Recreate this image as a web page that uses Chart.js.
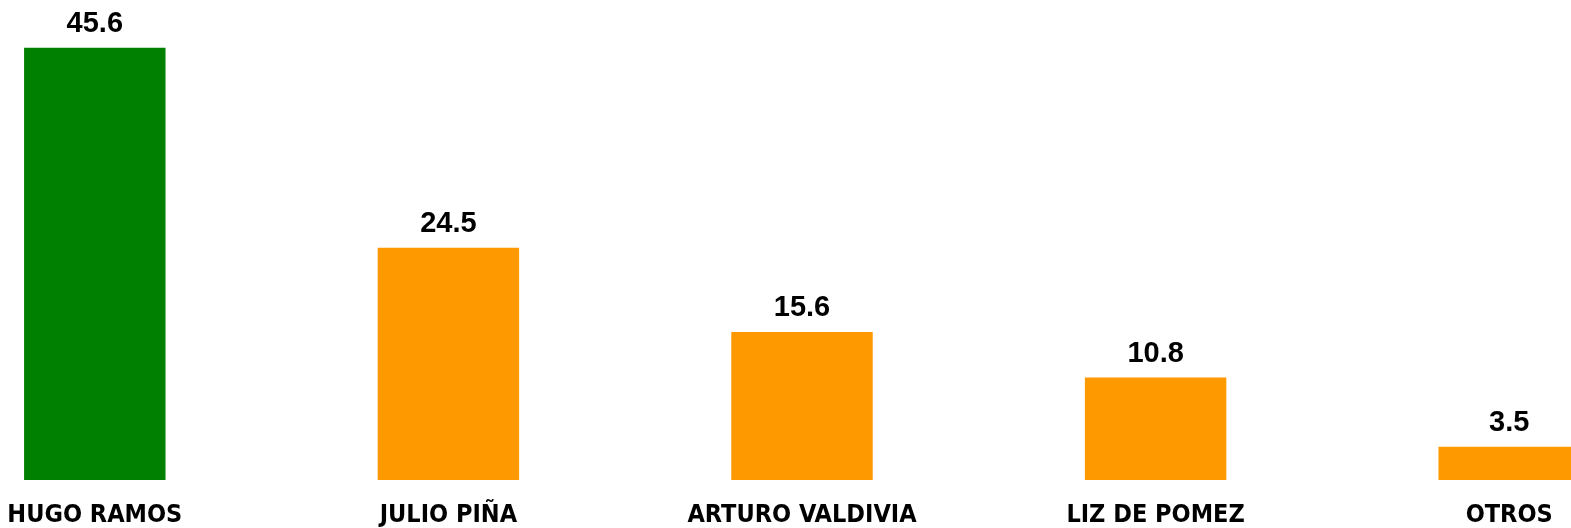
<!DOCTYPE html>
<html>
<head>
<meta charset="utf-8">
<script src="https://cdn.jsdelivr.net/npm/chart.js@4/dist/chart.umd.min.js"></script>
<style>
  html, body { margin: 0; padding: 0; background: #fff; overflow: hidden; }
  body { width: 1571px; height: 528px; position: relative; }
  #grafico { position: absolute; left: -82px; top: 0; }
</style>
</head>
<body>
<canvas id="grafico" width="1768" height="528"></canvas>
<script>
// datos del grafico
const candidatos = ["HUGO RAMOS", "JULIO PIÑA", "ARTURO VALDIVIA", "LIZ DE POMEZ", "OTROS"];
const porcentajes = [45.6, 24.5, 15.6, 10.8, 3.5];
const coloresBarras = ["#008000", "#ff9900", "#ff9900", "#ff9900", "#ff9900"];

// etiquetas de valor encima de cada barra
const etiquetasValor = {
    id: "etiquetasValor",
    afterDatasetsDraw(chart) {
        const ctx = chart.ctx;
        const meta = chart.getDatasetMeta(0);
        ctx.save();
        ctx.font = "bold 29px 'Liberation Sans', Arial, sans-serif";
        ctx.fillStyle = "#000";
        ctx.textAlign = "center";
        ctx.textBaseline = "alphabetic";
        meta.data.forEach((bar, i) => {
            ctx.fillText(porcentajes[i].toFixed(1), bar.x, bar.y - 16);
        });
        ctx.restore();
    }
};

const ctx = document.getElementById("grafico").getContext("2d");
new Chart(ctx, {
    type: "bar",
    data: {
        labels: candidatos,
        datasets: [{
            data: porcentajes,
            backgroundColor: coloresBarras,
            borderWidth: 0,
            barPercentage: 0.4,
            categoryPercentage: 1.0
        }]
    },
    options: {
        responsive: false,
        animation: false,
        layout: { padding: { top: 6, bottom: 0, left: 0, right: 0 } },
        plugins: {
            legend: { display: false },
            tooltip: { enabled: false }
        },
        scales: {
            x: {
                grid: { display: false, drawTicks: false },
                border: { display: false },
                afterFit(scale) { scale.height = 48; },
                ticks: {
                    color: "#000",
                    padding: 23,
                    maxRotation: 0,
                    autoSkip: false,
                    font: { family: "'DejaVu Sans Condensed', 'DejaVu Sans', sans-serif", weight: "bold", size: 25, lineHeight: 1 }
                }
            },
            y: {
                display: false,
                min: 0,
                max: 50
            }
        }
    },
    plugins: [etiquetasValor]
});
</script>
</body>
</html>
